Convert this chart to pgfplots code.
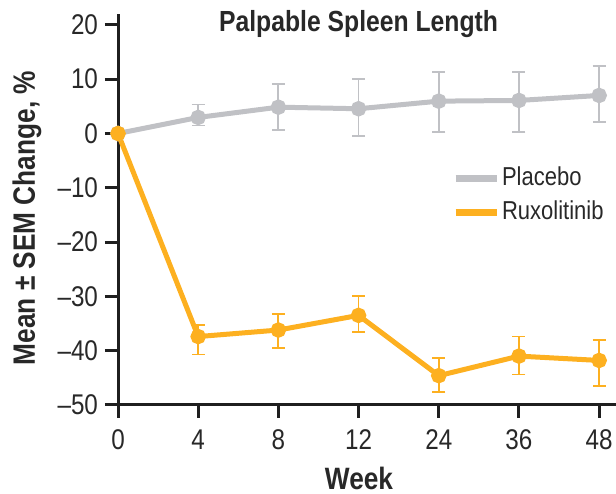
\documentclass[border=0pt]{standalone}
\usepackage{fontspec}
\setmainfont{Liberation Sans}[FakeStretch=0.85]
\usepackage{pgfplots}
\pgfplotsset{compat=1.18}
\definecolor{pgray}{RGB}{192,193,197}
\definecolor{porange}{RGB}{253,176,32}
\definecolor{txt}{RGB}{40,40,40}
\pgfplotstableread{
x y ep em
0 0 0 0
1 2.95 2.4 1.5
2 4.84 4.2 4.2
3 4.55 5.5 5.05
4 5.95 5.35 5.7
5 6.08 5.2 5.85
6 7.0 5.35 4.9
}\placebo
\pgfplotstableread{
x y ep em
0 0 0 0
1 -37.4 2.2 3.3
2 -36.2 3.0 3.3
3 -33.5 3.5 3.0
4 -44.6 3.2 3.0
5 -41.0 3.6 3.4
6 -41.8 3.8 4.7
}\ruxo
\begin{document}
\begin{tikzpicture}
\begin{axis}[name=ax, scale only axis, width=249bp, height=195.5bp,
 xmin=0, xmax=6.21, ymin=-50, ymax=22, clip=false,
 axis x line*=bottom, axis y line*=left,
 axis line style={line width=1.5bp, color=black!88},
 tick align=outside, major tick length=6.5bp,
 tick style={line width=1.5bp, color=black!88},
 xtick={0,...,6}, xticklabels={0,4,8,12,24,36,48},
 ytick={-50,-40,...,20}, yticklabels={–50,–40,–30,–20,–10,0,10,20},
 ticklabel style={font=\fontsize{14.3}{16}\selectfont, text=txt},
 xticklabel style={yshift=-2.5bp},
 xlabel={Week}, ylabel={Mean ± SEM Change, \%},
 label style={font=\bfseries\fontsize{15.5}{17}\selectfont, text=txt},
 ylabel style={at={(axis description cs:-0.183,0.478)}, anchor=center},
 xlabel style={at={(axis description cs:0.484,0)}, yshift=-36.5bp, anchor=center},
 legend style={at={(axis description cs:0.67,0.619)}, anchor=north west, draw=none, fill=none,
   font=\fontsize{13}{15}\selectfont, text=txt, row sep=2bp, inner sep=0pt,
   nodes={inner sep=1bp, text height=10bp, text depth=3bp}},
 legend cell align=left,
 legend image code/.code={\draw[#1, line width=3.5bp] (0bp,0bp) -- (20.5bp,0bp);},
 error bars/y dir=both, error bars/y explicit,
]
\addplot[color=pgray, line width=2.5bp, mark=*, mark size=2.6bp,
  error bars/error bar style={line width=0.9bp},
  error bars/error mark options={mark size=3.25bp, line width=0.9bp, rotate=90}]
  table[x=x, y=y, y error plus=ep, y error minus=em] {\placebo};
\addlegendentry{Placebo}
\addplot[color=porange, line width=2.5bp, mark=*, mark size=2.6bp,
  error bars/error bar style={line width=0.9bp},
  error bars/error mark options={mark size=3.25bp, line width=0.9bp, rotate=90}]
  table[x=x, y=y, y error plus=ep, y error minus=em] {\ruxo};
\addlegendentry{Ruxolitinib}
\node[font=\bfseries\fontsize{14.6}{16}\selectfont, text=txt] at (axis cs:3,20.1) {Palpable Spleen Length};
\end{axis}
\pgfresetboundingbox
\path[use as bounding box] ([xshift=-59bp,yshift=-44.5bp]ax.south west) rectangle ([yshift=7bp]ax.north east);
\end{tikzpicture}
\end{document}
